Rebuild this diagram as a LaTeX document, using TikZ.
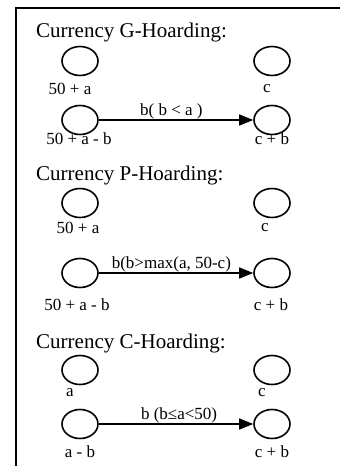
\documentclass[tikz,border=0pt]{standalone}
\usepackage{fontspec}
\setmainfont{Liberation Serif}
\usetikzlibrary{arrows.meta,shapes.geometric}
\begin{document}
\begin{tikzpicture}[x=1pt,y=-1pt,
  state/.style={draw,ellipse,line width=1.6pt,minimum width=36pt,minimum height=29pt,inner sep=0pt},
  lab/.style={font=\fontsize{17}{17}\selectfont,inner sep=0pt},
  ttl/.style={font=\fontsize{21}{21}\selectfont,inner sep=0pt,anchor=west},
  flow/.style={line width=1.5pt,-{Triangle[length=14pt,width=11pt]}},
  elab/.style={font=\fontsize{17}{17}\selectfont,inner sep=0pt,above}]
\useasboundingbox (0,0) rectangle (340,466);
\coordinate (fr1) at (340,8);
\coordinate (fr2) at (16,8);
\coordinate (fr3) at (16,466);
\draw[line width=1.8pt] (fr1) -- (fr2) -- (fr3);
% G
\node[ttl] (tG) at (36,32) {Currency G-Hoarding:};
\node[state] (g1) at (80,61) {};
\node[state] (g2) at (272,61) {};
\node[lab] (lg1) at (70,89) {50 + a};
\node[lab] (lg2) at (267,89) {c};
\node[state] (g3) at (80,120) {};
\node[state] (g4) at (272,120) {};
\node[lab] (lg3) at (79,139) {50 + a - b};
\node[lab] (lg4) at (272,139) {c + b};
\draw[flow] (g3) -- node[elab,pos=0.47]{b( b < a )} (g4);
% P
\node[ttl] (tP) at (36,175) {Currency P-Hoarding:};
\node[state] (p1) at (80,203) {};
\node[state] (p2) at (272,203) {};
\node[lab] (lp1) at (78,228) {50 + a};
\node[lab] (lp2) at (265,228) {c};
\node[state] (p3) at (80,273) {};
\node[state] (p4) at (272,273) {};
\node[lab] (lp3) at (77,305) {50 + a - b};
\node[lab] (lp4) at (271,305) {c + b};
\draw[flow] (p3) -- node[elab,pos=0.47]{b(b>max(a, 50-c)} (p4);
% C
\node[ttl] (tC) at (36,343) {Currency C-Hoarding:};
\node[state] (c1) at (80,370) {};
\node[state] (c2) at (272,370) {};
\node[lab] (lc1) at (70,393) {a};
\node[lab] (lc2) at (262,393) {c};
\node[state] (c3) at (80,424) {};
\node[state] (c4) at (272,424) {};
\node[lab] (lc3) at (80,452) {a - b};
\node[lab] (lc4) at (272,452) {c + b};
\draw[flow] (c3) -- node[elab,pos=0.52]{b (b≤a<50)} (c4);
\end{tikzpicture}
\end{document}
